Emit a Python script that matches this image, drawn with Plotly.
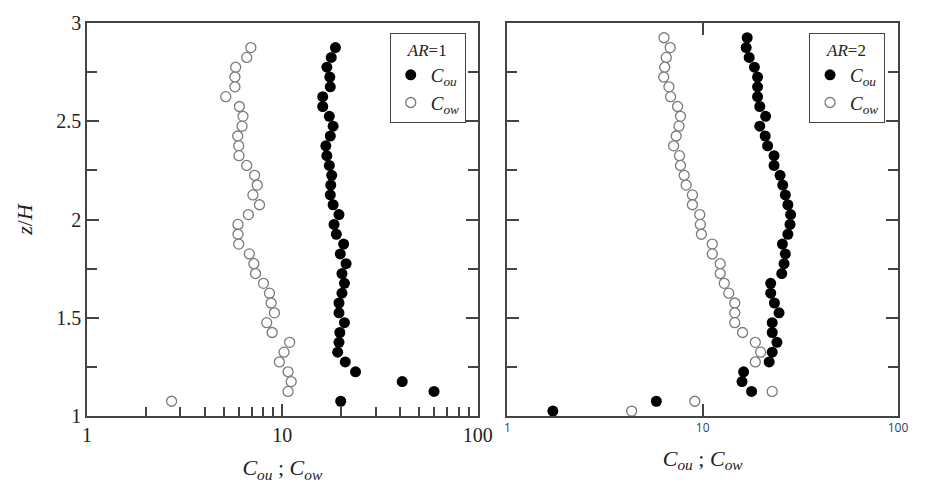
import plotly.graph_objects as go

# AR = 1 profiles (height z/H, coefficients)
z_ar1 = [2.875, 2.825, 2.775, 2.725, 2.675, 2.625, 2.575, 2.525, 2.475, 2.425,
         2.375, 2.325, 2.275, 2.225, 2.175, 2.125, 2.075, 2.025, 1.975, 1.925,
         1.875, 1.825, 1.775, 1.725, 1.675, 1.625, 1.575, 1.525, 1.475, 1.425,
         1.375, 1.325, 1.275, 1.225, 1.175, 1.125, 1.075]
cou_ar1 = [18.7, 17.8, 16.9, 17.5, 17.6, 16.1, 16.1, 17.4, 18.2, 17.6,
           16.7, 16.9, 17.4, 17.9, 17.7, 17.6, 18.2, 19.5, 18.4, 18.9,
           20.6, 19.8, 21.2, 20.2, 20.8, 20.2, 19.5, 19.5, 20.8, 19.7,
           19.5, 19.2, 21.0, 23.7, 41.1, 59.8, 19.9]
cow_ar1 = [6.90, 6.57, 5.77, 5.72, 5.72, 5.13, 6.03, 6.29, 6.22, 5.91,
           5.98, 6.00, 6.57, 7.21, 7.44, 7.07, 7.64, 6.70, 5.93, 5.93,
           5.98, 6.78, 7.15, 7.29, 8.01, 8.59, 8.76, 9.11, 8.32, 8.87,
           10.9, 10.2, 9.66, 10.7, 11.1, 10.7, 2.71]

# AR = 2 profiles
z_ar2 = [2.925, 2.875, 2.825, 2.775, 2.725, 2.675, 2.625, 2.575, 2.525, 2.475,
         2.425, 2.375, 2.325, 2.275, 2.225, 2.175, 2.125, 2.075, 2.025, 1.975,
         1.925, 1.875, 1.825, 1.775, 1.725, 1.675, 1.625, 1.575, 1.525, 1.475,
         1.425, 1.375, 1.325, 1.275, 1.225, 1.175, 1.125, 1.075, 1.025]
cou_ar2 = [16.9, 16.7, 17.3, 18.4, 19.1, 19.1, 19.1, 19.6, 21.0, 19.6,
           20.9, 21.5, 23.2, 23.2, 24.9, 25.7, 26.5, 27.3, 28.2, 28.0,
           27.3, 25.6, 26.5, 26.1, 25.4, 22.3, 22.3, 23.3, 24.6, 22.7,
           22.7, 24.0, 22.7, 21.9, 16.2, 15.9, 17.8, 5.79, 1.71]
cow_ar2 = [6.34, 6.82, 6.51, 6.39, 6.32, 6.72, 6.85, 7.44, 7.70, 7.56,
           7.32, 7.10, 7.61, 7.70, 8.04, 8.23, 8.86, 8.86, 9.66, 9.73,
           9.85, 11.2, 11.2, 12.3, 12.3, 12.9, 13.6, 14.6, 14.6, 14.6,
           16.0, 18.6, 19.8, 18.6, None, None, 22.7, 9.11, 4.33]

FONT = "Liberation Serif, Times New Roman, serif"
AX = "#444444"
TXT = "#222222"

filled = dict(symbol="circle", size=11, color="black", line=dict(width=0))
hollow = dict(symbol="circle", size=10, color="white", line=dict(width=1.3, color="#7a7a7a"))

fig = go.Figure()
fig.add_trace(go.Scatter(x=cou_ar1, y=z_ar1, mode="markers", marker=filled,
                         name="<i>C<sub>ou</sub></i>", legend="legend",
                         xaxis="x", yaxis="y"))
fig.add_trace(go.Scatter(x=cow_ar1, y=z_ar1, mode="markers", marker=hollow,
                         name="<i>C<sub>ow</sub></i>", legend="legend",
                         xaxis="x", yaxis="y"))
fig.add_trace(go.Scatter(x=cou_ar2, y=z_ar2, mode="markers", marker=filled,
                         name="<i>C<sub>ou</sub></i>", legend="legend2",
                         xaxis="x2", yaxis="y2"))
fig.add_trace(go.Scatter(x=cow_ar2, y=z_ar2, mode="markers", marker=hollow,
                         name="<i>C<sub>ow</sub></i>", legend="legend2",
                         xaxis="x2", yaxis="y2"))

xtitle = "<i>C<sub>ou</sub></i> ; <i>C<sub>ow</sub></i>"

# left panel: decade ticks with digit minor ticks, line mirrored only
xaxis_left = dict(
    type="log", range=[0, 2], domain=[0, 0.4817], anchor="y",
    tick0=0, dtick=1,
    ticks="inside", ticklen=12, tickwidth=2, tickcolor=AX,
    minor=dict(dtick="D1", ticks="inside", ticklen=9, tickwidth=2, tickcolor=AX),
    showline=True, linecolor=AX, linewidth=1.5, mirror=True,
    showgrid=False, zeroline=False,
    tickfont=dict(family=FONT, size=20, color=TXT),
    title=dict(text=xtitle, font=dict(family=FONT, size=22, color=TXT)),
)

# right panel: decade ticks only, mirrored ticks
xaxis_right = dict(
    type="log", range=[0, 2], domain=[0.5183, 1], anchor="y2",
    tick0=0, dtick=1,
    ticks="inside", ticklen=12, tickwidth=2, tickcolor=AX,
    showline=True, linecolor=AX, linewidth=1.5, mirror="ticks",
    showgrid=False, zeroline=False,
    title=dict(text=xtitle, font=dict(family=FONT, size=22, color=TXT)),
)


def yaxis(anchor, labels):
    return dict(
        range=[1, 3], anchor=anchor, dtick=0.5, tick0=1,
        ticks="inside", ticklen=12, tickwidth=1.5, tickcolor=AX,
        minor=dict(dtick=0.25, ticks="inside", ticklen=10, tickwidth=1.5, tickcolor=AX),
        showline=True, linecolor=AX, linewidth=1.5, mirror="ticks",
        showgrid=False, zeroline=False, showticklabels=labels,
        tickfont=dict(family=FONT, size=20, color=TXT),
    )


legend_common = dict(
    bgcolor="white", bordercolor=AX, borderwidth=1,
    font=dict(family=FONT, size=19, color=TXT),
    xanchor="right", yanchor="top", y=0.975,
    itemwidth=30, tracegroupgap=0, traceorder="normal",
)

fig.update_layout(
    width=925, height=488,
    margin=dict(l=87, r=20, t=22, b=72),
    paper_bgcolor="white", plot_bgcolor="white",
    showlegend=True,
    xaxis=xaxis_left,
    xaxis2=xaxis_right,
    yaxis=yaxis("x", True) | dict(
        title=dict(text="<i>z</i>/<i>H</i>",
                   font=dict(family=FONT, size=22, color=TXT), standoff=18)),
    yaxis2=yaxis("x2", False),
    legend=legend_common | dict(
        x=0.467, title=dict(text="<i>AR</i>=1", side="top center",
                            font=dict(family=FONT, size=17, color=TXT))),
    legend2=legend_common | dict(
        x=0.984, title=dict(text="<i>AR</i>=2", side="top center",
                            font=dict(family=FONT, size=17, color=TXT))),
)

fig.write_html("out.html")
